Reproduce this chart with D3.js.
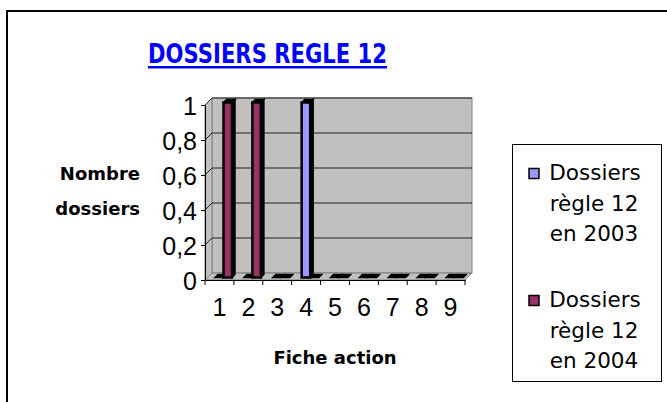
<!DOCTYPE html>
<meta charset="utf-8">
<style>
body { margin: 0; background: #fff; }
.ytick text, .xtick text { font-family: "Liberation Sans", Arial, sans-serif; font-size: 25px; fill: #000; }
.comic { font-family: "Comic Sans MS", "DejaVu Sans", sans-serif; }
</style>
<svg width="667" height="402"></svg>
<script src="https://d3js.org/d3.v7.min.js"></script>
<script>
// categories (fiche action) and the two series
const categories = ["1", "2", "3", "4", "5", "6", "7", "8", "9"];
const seriesNames = ["2003", "2004"];
const values2003 = [0, 0, 0, 1, 0, 0, 0, 0, 0];
const values2004 = [1, 1, 0, 0, 0, 0, 0, 0, 0];
const yTicks = [0, 0.2, 0.4, 0.6, 0.8, 1];
const legendLabels = [["Dossiers", "règle 12", "en 2003"], ["Dossiers", "règle 12", "en 2004"]];
const colors = ["#9999FF", "#993366"];

const svg = d3.select("svg");

// outer frame (only left + top visible)
svg.append("path").attr("d", "M7,402V11H667")
  .attr("fill", "none").attr("stroke", "#000").attr("stroke-width", 2);

const D = 7; // 3d depth
const x = d3.scaleBand().domain(categories).range([205, 465]);
const xs = d3.scaleBand().domain(seriesNames).range([7.5, 24.5]);
const y = d3.scaleLinear().domain([0, 1]).range([280, 105]);

const gWall = svg.append("g");
// back wall
gWall.append("rect")
  .attr("x", x.range()[0] + D).attr("y", y(1) - D)
  .attr("width", x.range()[1] - x.range()[0]).attr("height", y(0) - y(1))
  .attr("fill", "#C0C0C0").attr("stroke", "#808080");
// left wall
gWall.append("polygon")
  .attr("points", [[205, y(0)], [205, y(1)], [205 + D, y(1) - D], [205 + D, y(0) - D]].join(" "))
  .attr("fill", "#C0C0C0").attr("stroke", "#808080");
// floor
gWall.append("polygon")
  .attr("points", [[205, y(0)], [465, y(0)], [465 + D, y(0) - D], [205 + D, y(0) - D]].join(" "))
  .attr("fill", "#C0C0C0").attr("stroke", "#808080");

// gridlines
const grid = gWall.selectAll(".grid").data(yTicks.filter(d => d > 0)).join("g");
grid.append("line")
  .attr("x1", 205 + D).attr("x2", 465 + D)
  .attr("y1", d => y(d) - D).attr("y2", d => y(d) - D)
  .attr("stroke", "#222").attr("stroke-width", 1);
grid.append("line")
  .attr("x1", 205).attr("x2", 205 + D)
  .attr("y1", d => y(d)).attr("y2", d => y(d) - D)
  .attr("stroke", "#222").attr("stroke-width", 1);

// bars
const bars = [];
categories.forEach((c, i) => {
  bars.push({ cat: c, s: "2003", v: values2003[i], color: colors[0] });
  bars.push({ cat: c, s: "2004", v: values2004[i], color: colors[1] });
});
const d0 = 2.5, d1 = 5.5;
const gb = svg.append("g").selectAll("g").data(bars).join("g");
gb.each(function (d) {
  const g = d3.select(this);
  const x0 = x(d.cat) + xs(d.s) + d0, x1 = x0 + xs.bandwidth();
  const yt = y(d.v) - d0, yb = y(0) - d0;
  const dd = d1 - d0;
  // side
  g.append("polygon")
    .attr("points", [[x1, yb], [x1, yt], [x1 + dd, yt - dd], [x1 + dd, yb - dd]].join(" "))
    .attr("fill", "#000").attr("stroke", "#000").attr("stroke-width", 1.5);
  // top
  g.append("polygon")
    .attr("points", [[x0, yt], [x1, yt], [x1 + dd, yt - dd], [x0 + dd, yt - dd]].join(" "))
    .attr("fill", "#000").attr("stroke", "#000").attr("stroke-width", 1.5);
  // front
  g.append("rect")
    .attr("x", x0).attr("y", yt).attr("width", x1 - x0).attr("height", yb - yt)
    .attr("fill", d.color).attr("stroke", "#000").attr("stroke-width", 2.5);
});

// y axis
const yAxis = svg.append("g").attr("class", "ytick").attr("transform", "translate(205,0)")
  .call(d3.axisLeft(y).tickValues(yTicks).tickSize(4).tickSizeOuter(0).tickPadding(4)
    .tickFormat(d => String(d).replace(".", ",")));
yAxis.selectAll("path, line").attr("stroke", "#000");
yAxis.selectAll("text").attr("dy", "0.36em");

// x axis
const xAxis = svg.append("g").attr("class", "xtick").attr("transform", "translate(0,280)")
  .call(d3.axisBottom(x).tickSize(0).tickSizeOuter(0).tickPadding(20));
xAxis.select(".domain").attr("stroke", "#000");
xAxis.selectAll("text").attr("dy", "0.71em").attr("y", 18);
xAxis.selectAll(".bt").data(categories.concat(["end"])).join("line")
  .attr("x1", (d, i) => i < categories.length ? x(d) : x.range()[1])
  .attr("x2", (d, i) => i < categories.length ? x(d) : x.range()[1])
  .attr("y1", 0).attr("y2", 5).attr("stroke", "#000");

// title
svg.append("text").attr("class", "comic")
  .attr("x", 267.5).attr("y", 63).attr("text-anchor", "middle")
  .attr("font-size", 27).attr("font-weight", "bold").attr("fill", "#0000FF")
  .attr("textLength", 239).attr("lengthAdjust", "spacingAndGlyphs")
  .text("DOSSIERS REGLE 12");
svg.append("rect").attr("x", 148).attr("y", 66).attr("width", 239).attr("height", 2.5).attr("fill", "#0000FF");

// axis titles
svg.append("text").attr("class", "comic").attr("x", 140).attr("y", 180)
  .attr("text-anchor", "end").attr("font-size", 18).attr("font-weight", "bold").text("Nombre");
svg.append("text").attr("class", "comic").attr("x", 140).attr("y", 215)
  .attr("text-anchor", "end").attr("font-size", 18).attr("font-weight", "bold").text("dossiers");
svg.append("text").attr("class", "comic").attr("x", 335).attr("y", 364)
  .attr("text-anchor", "middle").attr("font-size", 18).attr("font-weight", "bold").text("Fiche action");

// legend
const lg = svg.append("g");
lg.append("rect").attr("x", 512.5).attr("y", 144.5).attr("width", 149).attr("height", 237)
  .attr("fill", "#fff").attr("stroke", "#000");
const items = lg.selectAll(".it").data(seriesNames).join("g")
  .attr("transform", (d, i) => `translate(0,${i * 127})`);
items.append("rect").attr("x", 529).attr("y", 168.5).attr("width", 10).attr("height", 10)
  .attr("fill", (d, i) => colors[i]).attr("stroke", "#000").attr("stroke-width", 1.5);
items.each(function (d, i) {
  d3.select(this).selectAll("text").data(legendLabels[i]).join("text")
    .attr("class", "comic").attr("x", (t, j) => j === 0 ? 595 : 594)
    .attr("y", (t, j) => 180 + j * 30.5)
    .attr("text-anchor", "middle").attr("font-size", 21.5).text(t => t);
});
</script>
